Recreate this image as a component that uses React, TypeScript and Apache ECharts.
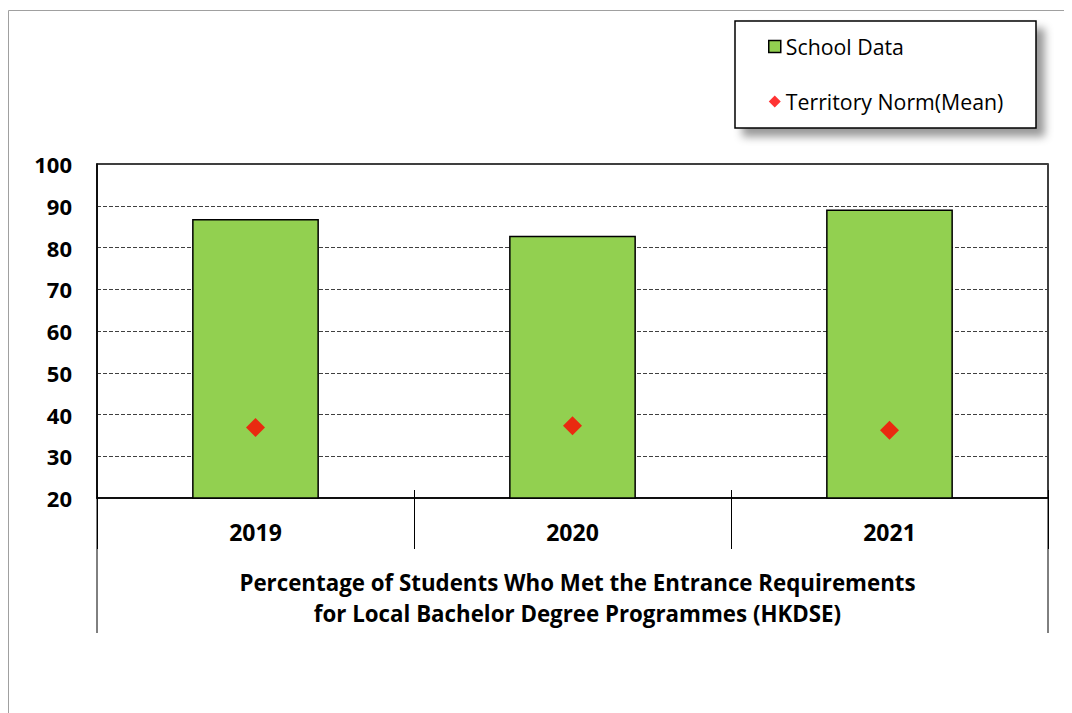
import React, { useEffect, useRef } from "react";
import * as echarts from "echarts";

const categories = ["2019", "2020", "2021"];
const schoolData = [86.8, 82.8, 89.1];
const territoryNorm = [36.9, 37.3, 36.2];
const yTicks = { min: 20, max: 100, interval: 10 };
const titleLines = [
  "Percentage of Students Who Met the Entrance Requirements",
  "for Local Bachelor Degree Programmes (HKDSE)",
];

const FONT = "Open Sans";

export default function App() {
  const ref = useRef<HTMLDivElement>(null);
  useEffect(() => {
    if (!ref.current) return;
    const chart = echarts.init(ref.current, null, { renderer: "svg" });
    const gl = 89, gt = 156, gw = 951, gh = 334;
    chart.setOption({
      animation: false,
      backgroundColor: "#fff",
      grid: {
        left: gl, top: gt, width: gw, height: gh,
        show: true, borderColor: "#000", borderWidth: 1.5, backgroundColor: "transparent",
      },
      title: {
        text: titleLines.join("\n"),
        left: gl + gw / 2,
        top: 554,
        textAlign: "center",
        textStyle: { fontFamily: FONT, fontWeight: "bold", fontSize: 22.3, lineHeight: 31, color: "#000" },
      },
      legend: {
        orient: "vertical",
        left: 755,
        top: 23,
        itemWidth: 12,
        itemHeight: 12,
        itemGap: 34,
        textStyle: { fontFamily: FONT, fontSize: 21.3, color: "#000" },
        data: [
          { name: "School Data", icon: "rect", itemStyle: { color: "#92D050", borderColor: "#000", borderWidth: 1.5 } },
          { name: "Territory Norm(Mean)", icon: "diamond", itemStyle: { color: "#FF0000" } },
        ],
      },
      graphic: [
        {
          type: "rect", silent: true, z: -10,
          shape: { x: 0.5, y: 2.5, width: 1200, height: 1000 },
          style: { fill: "none", stroke: "#a0a0a0", lineWidth: 1 },
        },
        {
          type: "rect", silent: true, z: 0,
          shape: { x: 727, y: 13, width: 301, height: 107 },
          style: {
            fill: "#fff", stroke: "#000", lineWidth: 1.5,
            shadowColor: "rgba(0,0,0,0.4)", shadowBlur: 8, shadowOffsetX: 8, shadowOffsetY: 8,
          },
        },
        {
          type: "line", silent: true,
          shape: { x1: gl, y1: gt + gh, x2: gl, y2: gt + gh + 135 },
          style: { stroke: "#000", lineWidth: 1 },
        },
        {
          type: "line", silent: true,
          shape: { x1: gl + gw, y1: gt + gh, x2: gl + gw, y2: gt + gh + 135 },
          style: { stroke: "#000", lineWidth: 1 },
        },
      ],
      xAxis: [
        {
          type: "category",
          data: categories,
          axisLine: { show: true, lineStyle: { color: "#000", width: 1.5 } },
          axisTick: { show: true, alignWithLabel: false, length: 51, lineStyle: { color: "#000", width: 1 } },
          axisLabel: { fontFamily: FONT, fontWeight: "bold", fontSize: 23, color: "#000", margin: 22 },
          splitLine: { show: false },
        },
        {
          type: "category",
          data: categories,
          position: "bottom",
          axisLine: { show: false },
          axisTick: { show: true, inside: true, alignWithLabel: false, length: 8, lineStyle: { color: "#000", width: 1 } },
          axisLabel: { show: false },
          splitLine: { show: false },
        },
      ],
      yAxis: {
        type: "value",
        min: yTicks.min,
        max: yTicks.max,
        interval: yTicks.interval,
        axisLine: { show: true, lineStyle: { color: "#000", width: 1.5 } },
        axisTick: { show: false },
        axisLabel: { fontFamily: FONT, fontWeight: "bold", fontSize: 22, color: "#000", margin: 25 },
        splitLine: { show: true, lineStyle: { type: [4, 2], color: "#404040", width: 1 } },
      },
      series: [
        {
          name: "School Data",
          type: "bar",
          data: schoolData,
          barWidth: "40%",
          itemStyle: { color: "#92D050", borderColor: "#000", borderWidth: 1.5 },
          z: 2,
        },
        {
          name: "Territory Norm(Mean)",
          type: "scatter",
          data: territoryNorm,
          symbol: "diamond",
          symbolSize: 19,
          itemStyle: { color: "#FF0000" },
          z: 3,
        },
      ],
    });
    return () => chart.dispose();
  }, []);
  return <div ref={ref} style={{ width: 1064, height: 705 }} />;
}
